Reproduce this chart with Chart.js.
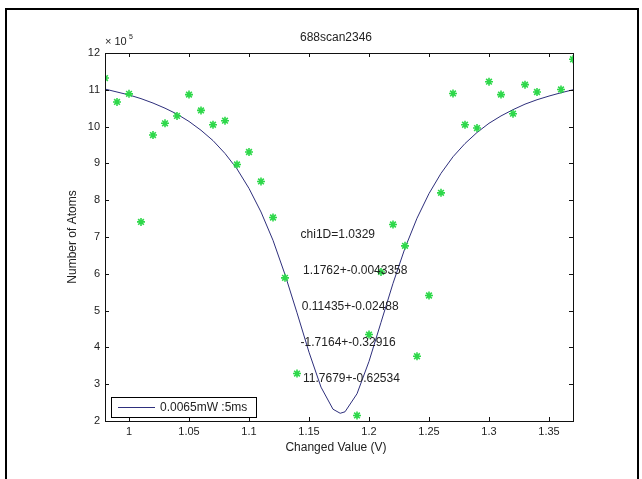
<!DOCTYPE html>
<html>
<head>
<meta charset="utf-8">
<script src="https://cdn.jsdelivr.net/npm/chart.js@4.4.0/dist/chart.umd.min.js"></script>
<style>
    html, body { margin: 0; padding: 0; background: #fff; }
    #wrap { position: relative; width: 642px; height: 479px; }
</style>
</head>
<body>
<div id="wrap"><canvas id="chart" width="642" height="479"></canvas></div>
<script>
const title = '688scan2346';
const xLabel = 'Changed Value (V)';
const yLabel = 'Number of Atoms';
const legendLabel = '0.0065mW :5ms';

const xTicks = [1, 1.05, 1.1, 1.15, 1.2, 1.25, 1.3, 1.35];
const yTicks = [2, 3, 4, 5, 6, 7, 8, 9, 10, 11, 12];

// measured atom numbers (x 10^5)
const scanX = [0.98, 0.99, 1.00, 1.01, 1.02, 1.03, 1.04, 1.05, 1.06, 1.07, 1.08, 1.09, 1.10, 1.11, 1.12, 1.13, 1.14,
    1.19, 1.20, 1.21, 1.22, 1.23, 1.24, 1.25, 1.26, 1.27, 1.28, 1.29, 1.30, 1.31, 1.32, 1.33, 1.34, 1.36, 1.37];
const scanY = [11.32, 10.67, 10.89, 7.41, 9.77, 10.09, 10.29, 10.87, 10.44, 10.05, 10.16, 8.97, 9.31, 8.51, 7.53, 5.89, 3.29,
    2.15, 4.35, 6.05, 7.34, 6.76, 3.76, 5.41, 8.20, 10.90, 10.05, 9.96, 11.22, 10.87, 10.35, 11.14, 10.94, 11.01, 11.83];

// fitted curve
const fitX = [0.98, 0.99, 1.00, 1.01, 1.02, 1.03, 1.04, 1.05, 1.06, 1.07, 1.08, 1.09, 1.10, 1.11, 1.12, 1.13, 1.14, 1.15,
    1.16, 1.17, 1.176, 1.18, 1.19, 1.20, 1.21, 1.22, 1.23, 1.24, 1.25, 1.26, 1.27, 1.28, 1.29, 1.30, 1.31, 1.32,
    1.33, 1.34, 1.35, 1.36, 1.37];
const fitY = [11.02, 10.94, 10.86, 10.76, 10.64, 10.50, 10.34, 10.14, 9.90, 9.62, 9.27, 8.85, 8.32, 7.68, 6.91, 5.98, 4.94, 3.87,
    2.92, 2.32, 2.21, 2.25, 2.74, 3.62, 4.68, 5.74, 6.70, 7.51, 8.18, 8.73, 9.18, 9.54, 9.84, 10.09, 10.29, 10.46,
    10.61, 10.73, 10.83, 10.92, 11.00];

const fitNotes = ['chi1D=1.0329', '1.1762+-0.0043358', '0.11435+-0.02488', '-1.7164+-0.32916', '11.7679+-0.62534'];
const noteX = [1.143, 1.145, 1.144, 1.143, 1.145];
const noteY = [7.05, 6.08, 5.10, 4.12, 3.15];

const FONT = "'Liberation Sans', Arial, sans-serif";
const LINE_COLOR = '#2e2f7c';
const DOT_COLOR = '#2ed84a';

const matlabFrame = {
    id: 'matlabFrame',
    beforeDraw(chart) {
        const ctx = chart.ctx;
        ctx.save();
        ctx.fillStyle = '#fff';
        ctx.fillRect(0, 0, chart.width, chart.height);
        ctx.restore();
    },
    afterDraw(chart) {
        const ctx = chart.ctx;
        const a = chart.chartArea;
        const xs = chart.scales.x, ys = chart.scales.y;
        ctx.save();

        // outer picture frame
        ctx.strokeStyle = '#000';
        ctx.lineWidth = 2;
        ctx.beginPath();
        ctx.moveTo(6, chart.height);
        ctx.lineTo(6, 9);
        ctx.lineTo(638, 9);
        ctx.lineTo(638, chart.height);
        ctx.stroke();

        // axes box
        ctx.lineWidth = 1;
        ctx.strokeStyle = '#111';
        ctx.strokeRect(Math.round(a.left) + 0.5, Math.round(a.top) + 0.5,
            Math.round(a.right - a.left), Math.round(a.bottom - a.top));

        // inward ticks
        ctx.beginPath();
        xTicks.forEach(v => {
            const px = Math.round(xs.getPixelForValue(v)) + 0.5;
            ctx.moveTo(px, a.bottom); ctx.lineTo(px, a.bottom - 4);
            ctx.moveTo(px, a.top); ctx.lineTo(px, a.top + 4);
        });
        yTicks.forEach(v => {
            const py = Math.round(ys.getPixelForValue(v)) + 0.5;
            ctx.moveTo(a.left, py); ctx.lineTo(a.left + 4, py);
            ctx.moveTo(a.right, py); ctx.lineTo(a.right - 4, py);
        });
        ctx.stroke();

        ctx.fillStyle = '#222';
        ctx.font = '12px ' + FONT;
        ctx.textBaseline = 'middle';

        // title and axis labels
        ctx.textAlign = 'center';
        ctx.fillText(title, (a.left + a.right) / 2 - 3, 38);
        ctx.fillText(xLabel, (a.left + a.right) / 2 - 3, 448);
        ctx.save();
        ctx.translate(73, (a.top + a.bottom) / 2);
        ctx.rotate(-Math.PI / 2);
        ctx.fillText(yLabel, 0, 0);
        ctx.restore();

        // exponent
        ctx.textAlign = 'left';
        ctx.font = '11px ' + FONT;
        ctx.fillText('\u00d7 10', a.left, 42);
        ctx.font = '7px ' + FONT;
        ctx.fillText('5', a.left + 24, 37);

        // fit results
        ctx.font = '12px ' + FONT;
        fitNotes.forEach((t, i) => {
            ctx.fillText(t, xs.getPixelForValue(noteX[i]), ys.getPixelForValue(noteY[i]));
        });

        // legend box
        ctx.fillStyle = '#fff';
        ctx.fillRect(111, 397, 145, 20);
        ctx.strokeStyle = '#000';
        ctx.strokeRect(111.5, 397.5, 145, 20);
        ctx.strokeStyle = LINE_COLOR;
        ctx.beginPath();
        ctx.moveTo(118, 407.5);
        ctx.lineTo(155, 407.5);
        ctx.stroke();
        ctx.fillStyle = '#222';
        ctx.fillText(legendLabel, 160, 408);

        ctx.restore();
    }
};

new Chart(document.getElementById('chart'), {
    type: 'scatter',
    data: {
        datasets: [
            {
                label: legendLabel,
                data: fitX.map((x, i) => ({ x: x, y: fitY[i] })),
                showLine: true,
                borderColor: LINE_COLOR,
                borderWidth: 1,
                pointRadius: 0,
                tension: 0,
                order: 2
            },
            {
                label: 'data',
                data: scanX.map((x, i) => ({ x: x, y: scanY[i] })),
                pointStyle: 'star',
                pointRadius: 4,
                borderColor: DOT_COLOR,
                backgroundColor: DOT_COLOR,
                borderWidth: 1.6,
                order: 1
            }
        ]
    },
    options: {
        responsive: false,
        animation: false,
        layout: { padding: { left: 0, right: 69, top: 53, bottom: 0 } },
        plugins: { legend: { display: false }, tooltip: { enabled: false }, title: { display: false } },
        scales: {
            x: {
                type: 'linear',
                min: 0.98,
                max: 1.37,
                grid: { display: false, drawTicks: false },
                border: { display: false },
                afterBuildTicks: s => { s.ticks = xTicks.map(v => ({ value: v })); },
                afterFit: s => { s.height = 58; },
                ticks: {
                    padding: 4,
                    color: '#222',
                    font: { family: FONT, size: 11 },
                    maxRotation: 0,
                    callback: v => String(Math.round(v * 100) / 100)
                }
            },
            y: {
                min: 2,
                max: 12,
                grid: { display: false, drawTicks: false },
                border: { display: false },
                afterBuildTicks: s => { s.ticks = yTicks.map(v => ({ value: v })); },
                afterFit: s => { s.width = 105; },
                ticks: {
                    padding: 5,
                    color: '#222',
                    font: { family: FONT, size: 11 },
                    callback: v => String(v)
                }
            }
        }
    },
    plugins: [matlabFrame]
});
</script>
</body>
</html>
